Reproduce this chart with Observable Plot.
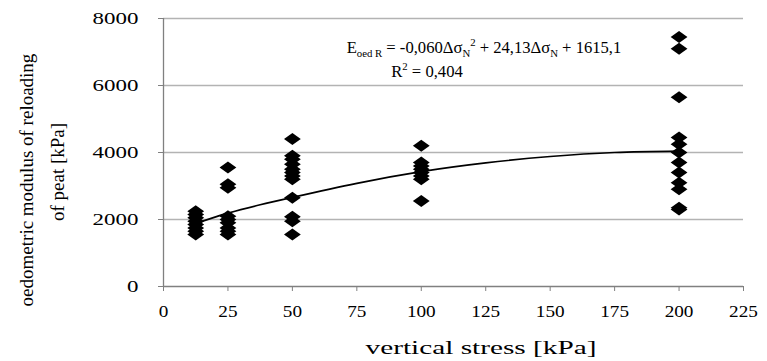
<!DOCTYPE html>
<html><head><meta charset="utf-8">
<script src="https://cdn.jsdelivr.net/npm/d3@7"></script>
<script src="https://cdn.jsdelivr.net/npm/@observablehq/plot@0.6"></script>
<style>
body{margin:0;background:#fff}
#chart svg{overflow:visible}
#chart svg text{font-family:"Liberation Serif","Times New Roman",serif !important}
</style>
</head><body><div id="chart"></div>
<script>
// ---- data ----
const stressLevels = [12.5, 25, 50, 100, 200];
const modulus12 = [2250, 2150, 2050, 1950, 1850, 1750, 1650, 1550];
const modulus25 = [3550, 3050, 2950, 2100, 2000, 1900, 1750, 1650, 1550];
const modulus50 = [4400, 3900, 3800, 3650, 3500, 3400, 3300, 3200, 2650, 2080, 1950, 1550];
const modulus100 = [4200, 3700, 3600, 3500, 3400, 3300, 3200, 2550];
const modulus200 = [7450, 7100, 5650, 4450, 4250, 4000, 3700, 3400, 3100, 2900, 2350, 2300];
const trendStress = [12.5, 25, 37.5, 50, 75, 100, 125, 150, 175, 200];
const trendModulus = [1880, 2190, 2440, 2660, 3080, 3430, 3690, 3880, 4000, 4040];
const xTicks = [0, 25, 50, 75, 100, 125, 150, 175, 200, 225];
const yTicks = [0, 2000, 4000, 6000, 8000];
const xTitle = "vertical stress [kPa]";
const yTitleLines = ["oedometric modulus of reloading", "of peat [kPa]"];

const groups = [modulus12, modulus25, modulus50, modulus100, modulus200];
const points = groups.flatMap((vals, i) => vals.map(v => ({stress: stressLevels[i], modulus: v})));
const trend = trendStress.map((s, i) => ({stress: s, modulus: trendModulus[i]}));

const wideDiamond = {
  draw(ctx, size) {
    const s = Math.sqrt(size / Math.PI), w = s * 1.4, h = s;
    ctx.moveTo(0, -h); ctx.lineTo(w, 0); ctx.lineTo(0, h); ctx.lineTo(-w, 0); ctx.closePath();
  }
};

const chart = Plot.plot({
  width: 767, height: 361,
  marginLeft: 163, marginRight: 24, marginTop: 18, marginBottom: 75,
  style: {fontFamily: "'Liberation Serif', 'Times New Roman', serif", fontSize: "16px", color: "#000", background: "#fff"},
  x: {domain: [0, 225], label: null},
  y: {domain: [0, 8000], label: null},
  marks: [
    Plot.gridY(yTicks.filter(d => d > 0), {stroke: "#b3b3b3", strokeOpacity: 1, strokeWidth: 1.3}),
    Plot.axisX(xTicks, {tickSize: 5, tickPadding: 14, stroke: "#808080", fill: "#000", fontSize: 16, label: null, tickFormat: d => String(d), className: "xax"}),
    Plot.axisY(yTicks, {tickSize: 5, tickPadding: 20, stroke: "#808080", fill: "#000", fontSize: 17, label: null, tickFormat: d => String(d), className: "yax"}),
    Plot.ruleX([0], {stroke: "#808080", strokeWidth: 1.3}),
    Plot.ruleY([0], {stroke: "#808080", strokeWidth: 1.3}),
    Plot.line(trend, {x: "stress", y: "modulus", curve: "natural", stroke: "#000", strokeWidth: 1.7}),
    Plot.dot(points, {x: "stress", y: "modulus", symbol: wideDiamond, r: 6, fill: "#000", stroke: "none"})
  ]
});
document.getElementById("chart").append(chart);

const svg = d3.select(chart);

// horizontal stretch of tick labels (the reference text is drawn wide)
function scaleText(sel, f) {
  sel.each(function() {
    const t = this.getAttribute("transform") || "";
    this.setAttribute("transform", `${t} scale(${f},1)`);
  });
}
scaleText(svg.selectAll(".xax text"), 1.2);
scaleText(svg.selectAll(".yax text"), 1.35);

// helper: stretched text group centered at (cx, cy baseline) with target width
function wideLabel(cx, cy, targetWidth, factor, build) {
  const g = svg.append("g");
  const t = g.append("text").attr("text-anchor", "middle").attr("fill", "#000");
  build(t);
  const w = t.node().getComputedTextLength();
  const f = targetWidth ? targetWidth / w : factor;
  g.attr("transform", `translate(${cx},${cy}) scale(${f},1)`);
  return f;
}

// x title
wideLabel(481, 354, 231, null, t => t.attr("font-size", 19).text(xTitle));

// y title (two lines)
const yCenters = [[26, 180], [57, 172]];
yTitleLines.forEach((t, i) => {
  svg.append("text").attr("transform", `translate(${yCenters[i][0]},${yCenters[i][1]}) rotate(-90)`)
    .attr("text-anchor", "middle").attr("dy", "0.35em").attr("font-size", 19).attr("fill", "#000").text(t);
});

// trendline equation
const eqF = wideLabel(484, 53, 275, null, eq => {
  eq.attr("font-size", 17);
  eq.append("tspan").text("E");
  eq.append("tspan").attr("font-size", 11).attr("dy", 4).text("oed R");
  eq.append("tspan").attr("dy", -4).text(" = -0,060\u0394\u03c3");
  eq.append("tspan").attr("font-size", 11).attr("dy", 4).text("N");
  eq.append("tspan").attr("font-size", 11).attr("dy", -11).text("2");
  eq.append("tspan").attr("dy", 7).text(" + 24,13\u0394\u03c3");
  eq.append("tspan").attr("font-size", 11).attr("dy", 4).text("N");
  eq.append("tspan").attr("dy", -4).text(" + 1615,1");
});
wideLabel(427, 77, null, eqF, r2 => {
  r2.attr("font-size", 17);
  r2.append("tspan").text("R");
  r2.append("tspan").attr("font-size", 11).attr("dy", -7).text("2");
  r2.append("tspan").attr("dy", 7).text(" = 0,404");
});
</script>
</body></html>
